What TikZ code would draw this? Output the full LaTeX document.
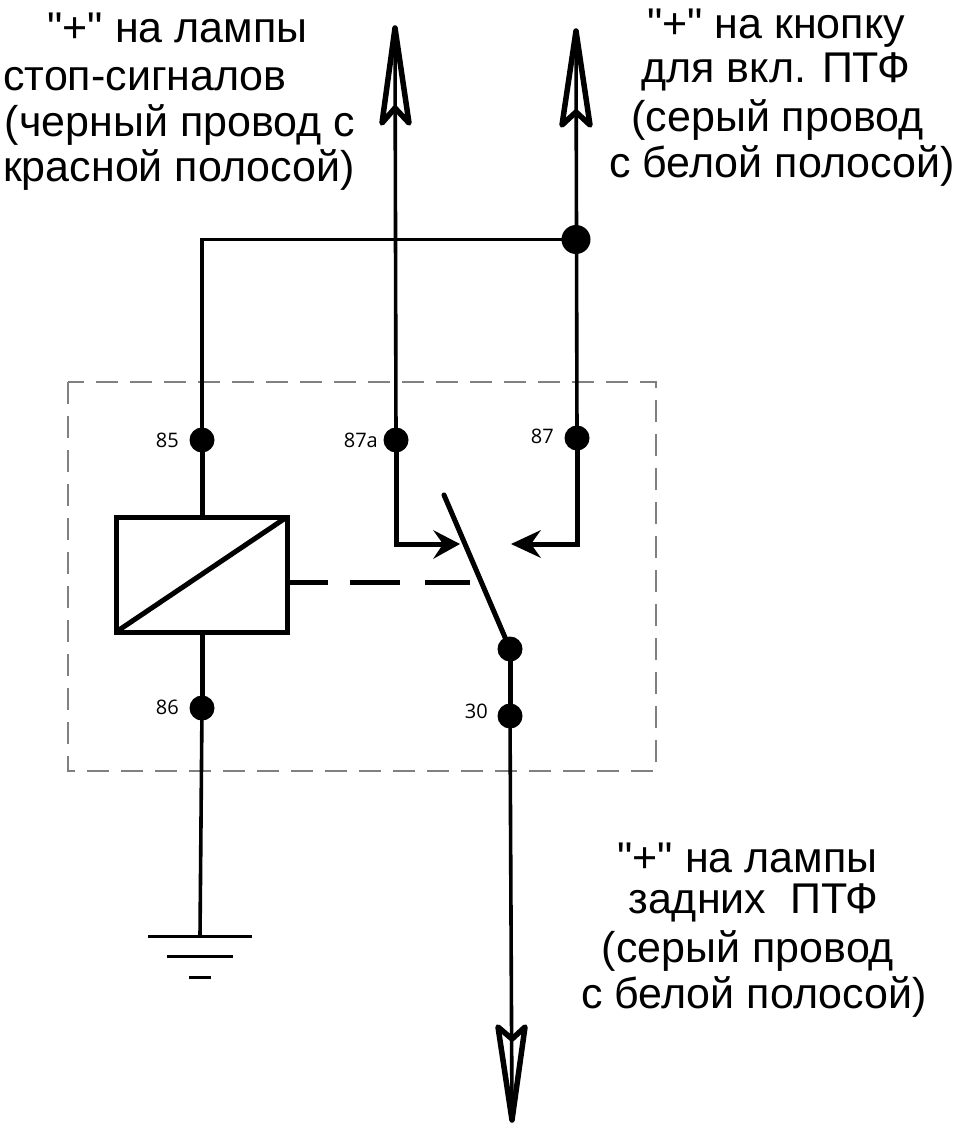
\documentclass[tikz,border=0pt]{standalone}
\usepackage{fontspec}
\setmainfont{Liberation Sans}[Ligatures=TeXOff]
\newfontfamily\pinfont{Open Sans}
\tikzset{
  x=1pt,y=-1pt,
  thinw/.style={line width=3.6pt,black},
  thickw/.style={line width=5pt,black},
  pin/.style={circle,fill=black,inner sep=0pt,minimum size=25pt},
  bigdot/.style={circle,fill=black,inner sep=0pt,minimum size=29pt},
  lbl/.style={font=\fontsize{43}{48}\selectfont,inner sep=0pt,anchor=base},
  pinlbl/.style={font=\pinfont\fontsize{20}{22}\selectfont,inner sep=0pt,anchor=base east},
  outhead/.style={line width=5.5pt,line join=round,line cap=round,black},
}
\begin{document}
\begin{tikzpicture}
\useasboundingbox (0,0) rectangle (960,1123);
% dashed enclosure
\draw[gray,line width=1.6pt,dash pattern=on 22pt off 12pt] (68,382) rectangle (656,771);
% named points
\node[pin] (p85) at (202,440) {};
\node[pin] (p86) at (202,708) {};
\node[pin] (p87a) at (396,440) {};
\node[pin] (p87) at (577,438) {};
\node[pin] (sw) at (510,649) {};
\node[pin] (p30) at (510,716) {};
\node[bigdot] (j) at (576,239.5) {};
\coordinate (tl) at (202,239.5);
\coordinate (a1) at (395,30);
\coordinate (a2) at (576,33);
\coordinate (a3) at (512,1118);
\coordinate (relT) at (202,517);
\coordinate (relB) at (202,632);
\coordinate (swtop) at (444,495);
\coordinate (cl) at (396,544);
\coordinate (cr) at (577,544);
\coordinate (clt) at (445,544);
\coordinate (crt) at (530,544);
\coordinate (gnd) at (200,936);
% thin wires
\draw[thinw] (p85.center) -- (tl) -- (j.center);
\draw[thinw] (p87a.center) -- (a1);
\draw[thinw] (p87.center) -- (a2);
\draw[thinw] (p86.center) -- (gnd);
\draw[thinw] (p30.center) -- (a3);
% thick wires
\draw[thickw] (p85.center) -- (relT);
\draw[thickw] (p86.center) -- (relB);
\draw[thickw] (sw.center) -- (p30.center);
\draw[line width=5pt,line join=miter] (p87a.center) -- (cl) -- (clt);
\draw[line width=5pt,line join=miter] (p87.center) -- (cr) -- (crt);
\draw[thickw,line cap=round] (swtop) -- (sw.center);
% relay coil
\draw[thickw,line join=miter] (116,517) rectangle (287,632);
\draw[thickw] (116,632) -- (287,517);
% mechanical link
\draw[thickw] (287,582.5) -- (328,582.5) (350,582.5) -- (400,582.5) (425,582.5) -- (470,582.5);
% contact arrows
\fill[black] (460,544) -- (433,530) -- (443,544) -- (433,559) -- cycle;
\fill[black] (511,544) -- (541,530) -- (531,544) -- (541,558) -- cycle;
% open arrowheads
\draw[outhead] (395,28) -- (382,123) -- (395,108) -- (409,123) -- cycle;
\draw[outhead] (576,31) -- (562,125) -- (576,112) -- (590,125) -- cycle;
\draw[outhead] (512,1120) -- (498,1027) -- (512,1039) -- (525,1027) -- cycle;
% ground
\draw[line width=3pt] (148,936) -- (252,936);
\draw[line width=3pt] (167,956) -- (233,956);
\draw[line width=3pt] (189,977) -- (211,977);
% pin labels
\node[pinlbl] (l85) at (179,447) {85};
\node[pinlbl] (l87a) at (378,447) {87a};
\node[pinlbl] (l87) at (554,443) {87};
\node[pinlbl] (l86) at (179,714) {86};
\node[pinlbl] (l30) at (488,718) {30};
% text blocks
\node[lbl] (t1) at (177.5,43) {"+" на лампы};
\node[lbl] (t2) at (145,91) {стоп-сигналов};
\node[lbl] (t3) at (180,137) {(черный провод с};
\node[lbl] (t4) at (179,182) {красной полосой)};
\node[lbl] (t5) at (776,39) {"+" на кнопку};
\node[lbl] (t6) at (776,83) {для вкл. ПТФ};
\node[lbl] (t7) at (777.5,132) {(серый провод};
\node[lbl] (t8) at (782,178) {с белой полосой)};
\node[lbl] (t9) at (747.5,872) {"+" на лампы};
\node[lbl] (t10) at (753.5,913) {задних\ \ ПТФ};
\node[lbl] (t11) at (748,962) {(серый провод};
\node[lbl] (t12) at (754,1008) {с белой полосой)};
\end{tikzpicture}
\end{document}
